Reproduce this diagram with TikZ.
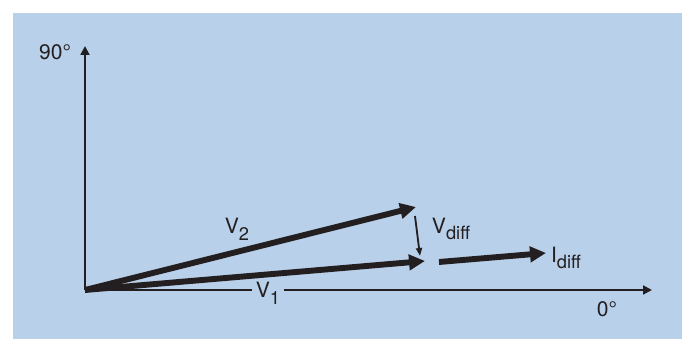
\documentclass[tikz,border=0pt]{standalone}
\usepackage{fontspec}
\setmainfont{TeX Gyre Heros}
\usetikzlibrary{arrows.meta}
\definecolor{panel}{RGB}{185,208,234}
\definecolor{ink}{RGB}{35,31,32}
\newcommand{\lowpart}[1]{\raisebox{-0.6ex}{\fontsize{13}{13}\selectfont #1}}
\begin{document}
\begin{tikzpicture}[
  x=0.25mm,y=-0.25mm,
  font=\fontsize{15}{17}\selectfont,
  axis/.style={draw=ink,line width=1.4pt,-{Triangle[length=2.2mm,width=2.2mm]}},
  phasor/.style={draw=ink,line width=4.2pt,-{Triangle[length=4mm,width=3.8mm]}},
  thinvec/.style={draw=ink,line width=1.3pt,-{Triangle[length=2mm,width=1.5mm]}},
  lab/.style={text=ink,inner sep=1pt}
]
\useasboundingbox (0,0) rectangle (682,339);
\fill[panel] (13,13) rectangle (682,339);
% axes
\coordinate (o) at (85,290);
\coordinate (yend) at (85,46);
\coordinate (xend) at (652,290);
\draw[axis] (o) -- (yend);
\draw[axis] (o) -- (xend);
\node[lab] (deg90) at (55,52) {90°};
\node[lab] (deg0) at (607,309) {0°};
\node[lab,fill=panel,inner xsep=3pt] (lv1) at (268,293) {V\lowpart{1}};
% phasors
\coordinate (v2) at (416,207);
\coordinate (v1) at (425,261);
\draw[phasor] (o) -- (v2);
\draw[phasor] (o) -- (v1);
\coordinate (dtop) at (415,216);
\coordinate (dbot) at (420,256);
\draw[thinvec] (dtop) -- (dbot);
\coordinate (istart) at (439,262);
\coordinate (iend) at (546,253);
\draw[phasor] (istart) -- (iend);
\node[lab] (lv2) at (237,229) {V\lowpart{2}};
\node[lab] (lvd) at (451,229) {V\lowpart{diff}};
\node[lab] (lid) at (566,258) {I\lowpart{diff}};
\end{tikzpicture}
\end{document}
